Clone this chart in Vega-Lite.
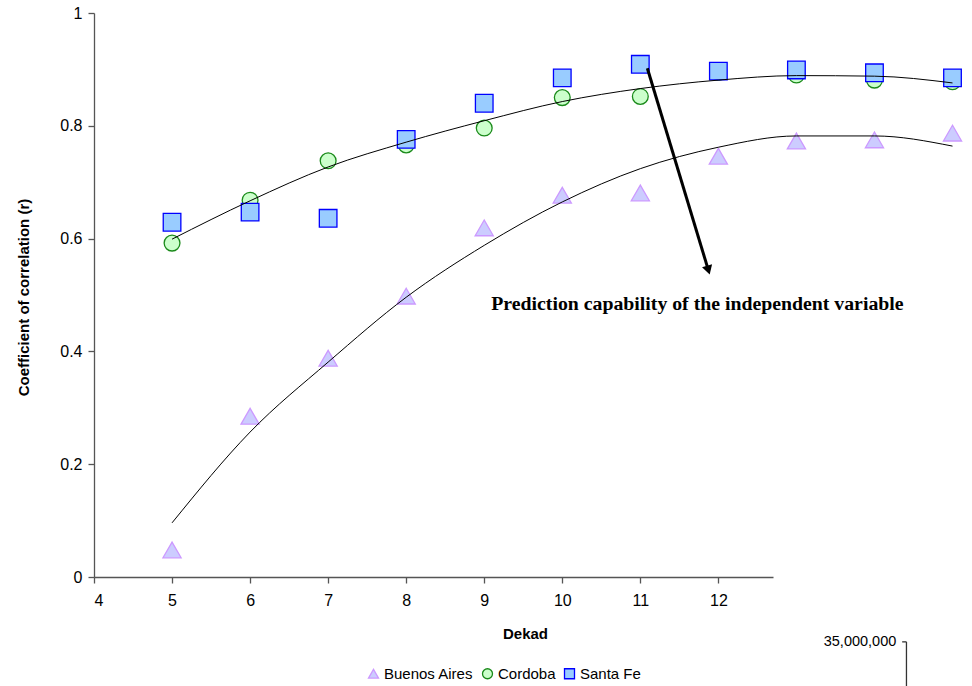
{
  "$schema": "https://vega.github.io/schema/vega-lite/v6.json",
  "width": 679,
  "height": 564,
  "autosize": "none",
  "padding": {"left": 94, "top": 13, "right": 199, "bottom": 109},
  "background": "white",
  "config": {
    "view": {"stroke": null},
    "font": "Liberation Sans",
    "axis": {"grid": false, "domainColor": "#555555", "tickColor": "#555555", "labelColor": "black", "labelFont": "Liberation Sans", "labelFontSize": 16, "titleFont": "Liberation Sans", "titleFontSize": 15, "titleFontWeight": "bold", "titleColor": "black", "tickSize": 6, "domainWidth": 1.3, "tickWidth": 1.3},
    "legend": {"labelFontSize": 15, "labelFont": "Liberation Sans", "labelColor": "black"}
  },
  "datasets": {
    "pts": [
      {"dekad": 5, "r": 0.048, "series": "Buenos Aires"},
      {"dekad": 6, "r": 0.285, "series": "Buenos Aires"},
      {"dekad": 7, "r": 0.388, "series": "Buenos Aires"},
      {"dekad": 8, "r": 0.498, "series": "Buenos Aires"},
      {"dekad": 9, "r": 0.619, "series": "Buenos Aires"},
      {"dekad": 10, "r": 0.677, "series": "Buenos Aires"},
      {"dekad": 11, "r": 0.681, "series": "Buenos Aires"},
      {"dekad": 12, "r": 0.746, "series": "Buenos Aires"},
      {"dekad": 13, "r": 0.773, "series": "Buenos Aires"},
      {"dekad": 14, "r": 0.775, "series": "Buenos Aires"},
      {"dekad": 15, "r": 0.787, "series": "Buenos Aires"},
      {"dekad": 5, "r": 0.592, "series": "Cordoba"},
      {"dekad": 6, "r": 0.668, "series": "Cordoba"},
      {"dekad": 7, "r": 0.738, "series": "Cordoba"},
      {"dekad": 8, "r": 0.766, "series": "Cordoba"},
      {"dekad": 9, "r": 0.796, "series": "Cordoba"},
      {"dekad": 10, "r": 0.85, "series": "Cordoba"},
      {"dekad": 11, "r": 0.852, "series": "Cordoba"},
      {"dekad": 12, "r": 0.895, "series": "Cordoba"},
      {"dekad": 13, "r": 0.89, "series": "Cordoba"},
      {"dekad": 14, "r": 0.881, "series": "Cordoba"},
      {"dekad": 15, "r": 0.878, "series": "Cordoba"},
      {"dekad": 5, "r": 0.629, "series": "Santa Fe"},
      {"dekad": 6, "r": 0.647, "series": "Santa Fe"},
      {"dekad": 7, "r": 0.636, "series": "Santa Fe"},
      {"dekad": 8, "r": 0.776, "series": "Santa Fe"},
      {"dekad": 9, "r": 0.84, "series": "Santa Fe"},
      {"dekad": 10, "r": 0.885, "series": "Santa Fe"},
      {"dekad": 11, "r": 0.909, "series": "Santa Fe"},
      {"dekad": 12, "r": 0.897, "series": "Santa Fe"},
      {"dekad": 13, "r": 0.899, "series": "Santa Fe"},
      {"dekad": 14, "r": 0.894, "series": "Santa Fe"},
      {"dekad": 15, "r": 0.885, "series": "Santa Fe"}
    ],
    "trend": [
      {"dekad": 5, "r": 0.599, "curve": "upper"},
      {"dekad": 6, "r": 0.667, "curve": "upper"},
      {"dekad": 7, "r": 0.727, "curve": "upper"},
      {"dekad": 8, "r": 0.771, "curve": "upper"},
      {"dekad": 9, "r": 0.809, "curve": "upper"},
      {"dekad": 10, "r": 0.843, "curve": "upper"},
      {"dekad": 11, "r": 0.866, "curve": "upper"},
      {"dekad": 12, "r": 0.881, "curve": "upper"},
      {"dekad": 13, "r": 0.889, "curve": "upper"},
      {"dekad": 14, "r": 0.888, "curve": "upper"},
      {"dekad": 15, "r": 0.876, "curve": "upper"},
      {"dekad": 5, "r": 0.096, "curve": "lower"},
      {"dekad": 6, "r": 0.257, "curve": "lower"},
      {"dekad": 7, "r": 0.381, "curve": "lower"},
      {"dekad": 8, "r": 0.496, "curve": "lower"},
      {"dekad": 9, "r": 0.588, "curve": "lower"},
      {"dekad": 10, "r": 0.665, "curve": "lower"},
      {"dekad": 11, "r": 0.724, "curve": "lower"},
      {"dekad": 12, "r": 0.762, "curve": "lower"},
      {"dekad": 13, "r": 0.782, "curve": "lower"},
      {"dekad": 14, "r": 0.782, "curve": "lower"},
      {"dekad": 15, "r": 0.764, "curve": "lower"}
    ],
    "arrow": [
      {"x": 11.09, "y": 0.902, "x2": 11.872, "y2": 0.544}
    ],
    "note": [
      {"x": 9.09, "y": 0.484, "label": "Prediction capability of the independent variable"}
    ],
    "stray": [
      {"x": 14.28, "tx": 14.355, "y": -0.115, "x2": 14.41, "y2": -0.195, "label": "35,000,000"}
    ]
  },
  "layer": [
    {
      "data": {"name": "pts"},
      "transform": [{"filter": "datum.series === 'Buenos Aires'"}],
      "mark": {"type": "point", "filled": true, "opacity": 1, "strokeWidth": 1.3, "size": 330},
      "encoding": {
        "x": {"field": "dekad", "type": "quantitative", "scale": {"domain": [4, 12.7], "nice": false, "zero": false},
              "axis": {"values": [4, 5, 6, 7, 8, 9, 10, 11, 12], "format": "d", "title": "Dekad", "titleX": 431, "titleY": 56, "titleBaseline": "middle", "labelPadding": 9}},
        "y": {"field": "r", "type": "quantitative", "scale": {"domain": [0, 1], "nice": false},
              "axis": {"values": [0, 0.2, 0.4, 0.6, 0.8, 1], "format": ".1~f", "title": "Coefficient of correlation (r)", "titleX": -71, "titleY": 284, "titleAngle": -90, "titleAlign": "center", "titleBaseline": "middle", "labelPadding": 6}},
        "shape": {"field": "series", "type": "nominal", "scale": {"domain": ["Buenos Aires", "Cordoba", "Santa Fe"], "range": ["triangle-up", "circle", "square"]},
                  "legend": {"title": null, "orient": "none", "legendX": 272, "legendY": 653, "direction": "horizontal", "symbolSize": 100, "symbolStrokeWidth": 1.3, "columnPadding": 5, "labelOffset": 3}},
        "fill": {"field": "series", "type": "nominal", "scale": {"domain": ["Buenos Aires", "Cordoba", "Santa Fe"], "range": ["#ccccff", "#ccffcc", "#99ccff"]}},
        "stroke": {"field": "series", "type": "nominal", "scale": {"domain": ["Buenos Aires", "Cordoba", "Santa Fe"], "range": ["#cc99ff", "#1a8a1a", "#0000ff"]}}
      }
    },
    {
      "data": {"name": "pts"},
      "transform": [{"filter": "datum.series === 'Cordoba'"}],
      "mark": {"type": "point", "filled": true, "opacity": 1, "strokeWidth": 1.3, "size": 250},
      "encoding": {
        "x": {"field": "dekad", "type": "quantitative"},
        "y": {"field": "r", "type": "quantitative"},
        "shape": {"field": "series", "type": "nominal"},
        "fill": {"field": "series", "type": "nominal"},
        "stroke": {"field": "series", "type": "nominal"}
      }
    },
    {
      "data": {"name": "pts"},
      "transform": [{"filter": "datum.series === 'Santa Fe'"}],
      "mark": {"type": "point", "filled": true, "opacity": 1, "strokeWidth": 1.3, "size": 310},
      "encoding": {
        "x": {"field": "dekad", "type": "quantitative"},
        "y": {"field": "r", "type": "quantitative"},
        "shape": {"field": "series", "type": "nominal"},
        "fill": {"field": "series", "type": "nominal"},
        "stroke": {"field": "series", "type": "nominal"}
      }
    },
    {
      "data": {"name": "trend"},
      "mark": {"type": "line", "color": "black", "strokeWidth": 1, "interpolate": "monotone"},
      "encoding": {
        "x": {"field": "dekad", "type": "quantitative"},
        "y": {"field": "r", "type": "quantitative"},
        "detail": {"field": "curve", "type": "nominal"}
      }
    },
    {
      "data": {"name": "arrow"},
      "mark": {"type": "rule", "color": "black", "strokeWidth": 3},
      "encoding": {
        "x": {"field": "x", "type": "quantitative"},
        "y": {"field": "y", "type": "quantitative"},
        "x2": {"field": "x2"},
        "y2": {"field": "y2"}
      }
    },
    {
      "data": {"name": "arrow"},
      "mark": {"type": "point", "shape": "triangle-down", "filled": true, "color": "black", "opacity": 1, "size": 110, "angle": 343},
      "encoding": {
        "x": {"field": "x2", "type": "quantitative"},
        "y": {"field": "y2", "type": "quantitative"}
      }
    },
    {
      "data": {"name": "note"},
      "mark": {"type": "text", "font": "Liberation Serif", "fontWeight": "bold", "fontSize": 19.8, "align": "left", "baseline": "middle", "color": "black"},
      "encoding": {
        "x": {"field": "x", "type": "quantitative"},
        "y": {"field": "y", "type": "quantitative"},
        "text": {"field": "label"}
      }
    },
    {
      "data": {"name": "stray"},
      "mark": {"type": "text", "font": "Liberation Sans", "fontSize": 14.5, "align": "right", "baseline": "middle", "color": "black"},
      "encoding": {
        "x": {"field": "x", "type": "quantitative"},
        "y": {"field": "y", "type": "quantitative"},
        "text": {"field": "label"}
      }
    },
    {
      "data": {"name": "stray"},
      "mark": {"type": "rule", "color": "#333333", "strokeWidth": 1.3},
      "encoding": {
        "x": {"field": "x2", "type": "quantitative"},
        "y": {"field": "y", "type": "quantitative"},
        "y2": {"field": "y2"}
      }
    },
    {
      "data": {"name": "stray"},
      "mark": {"type": "rule", "color": "#333333", "strokeWidth": 1.3},
      "encoding": {
        "x": {"field": "tx", "type": "quantitative"},
        "x2": {"field": "x2"},
        "y": {"field": "y", "type": "quantitative"}
      }
    }
  ]
}
